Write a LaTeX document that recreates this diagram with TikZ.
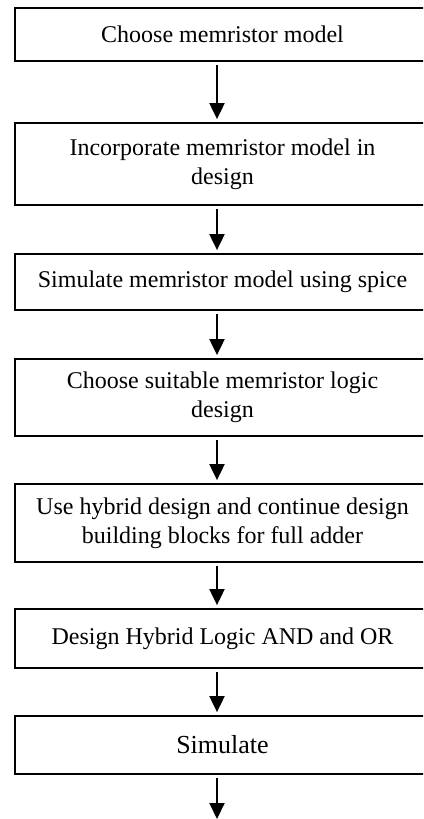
\documentclass[tikz,border=0pt]{standalone}
\usepackage{fontspec}
\setmainfont{Liberation Serif}
\usetikzlibrary{arrows.meta}
\tikzset{
  stepbox/.style={draw=black, line width=1.8pt, minimum width=415pt, inner sep=0pt,
    align=center, font=\fontsize{24}{29}\selectfont},
  flow/.style={line width=2pt, -{Triangle[width=15pt,length=16pt]}, shorten <=3pt, shorten >=3pt}
}
\begin{document}
\begin{tikzpicture}[x=1pt,y=-1pt]
\useasboundingbox (0,0) rectangle (423,819);
\clip (0,0) rectangle (423,819);
\coordinate (ax) at (217,0);
\node[stepbox, minimum height=53pt] (b1) at (222.5,34.5) {Choose memristor model};
\node[stepbox, minimum height=82pt] (b2) at (222.5,164) {Incorporate memristor model in\\design};
\node[stepbox, minimum height=56pt] (b3) at (222.5,282) {Simulate memristor model using spice};
\node[stepbox, minimum height=77pt] (b4) at (222.5,397.5) {Choose suitable memristor logic\\design};
\node[stepbox, minimum height=78pt] (b5) at (222.5,523) {Use hybrid design and continue design\\building blocks for full adder};
\node[stepbox, minimum height=59pt] (b6) at (222.5,638.5) {Design Hybrid Logic AND and OR};
\node[stepbox, minimum height=58pt, font=\fontsize{26}{30}\selectfont] (b7) at (222.5,745) {Simulate};
\coordinate (end) at (217,819);
\draw[flow] (b1.south -| ax) -- (b2.north -| ax);
\draw[flow] (b2.south -| ax) -- (b3.north -| ax);
\draw[flow] (b3.south -| ax) -- (b4.north -| ax);
\draw[flow] (b4.south -| ax) -- (b5.north -| ax);
\draw[flow] (b5.south -| ax) -- (b6.north -| ax);
\draw[flow] (b6.south -| ax) -- (b7.north -| ax);
\draw[flow, shorten >=0pt] (b7.south -| ax) -- (end);
\end{tikzpicture}
\end{document}
